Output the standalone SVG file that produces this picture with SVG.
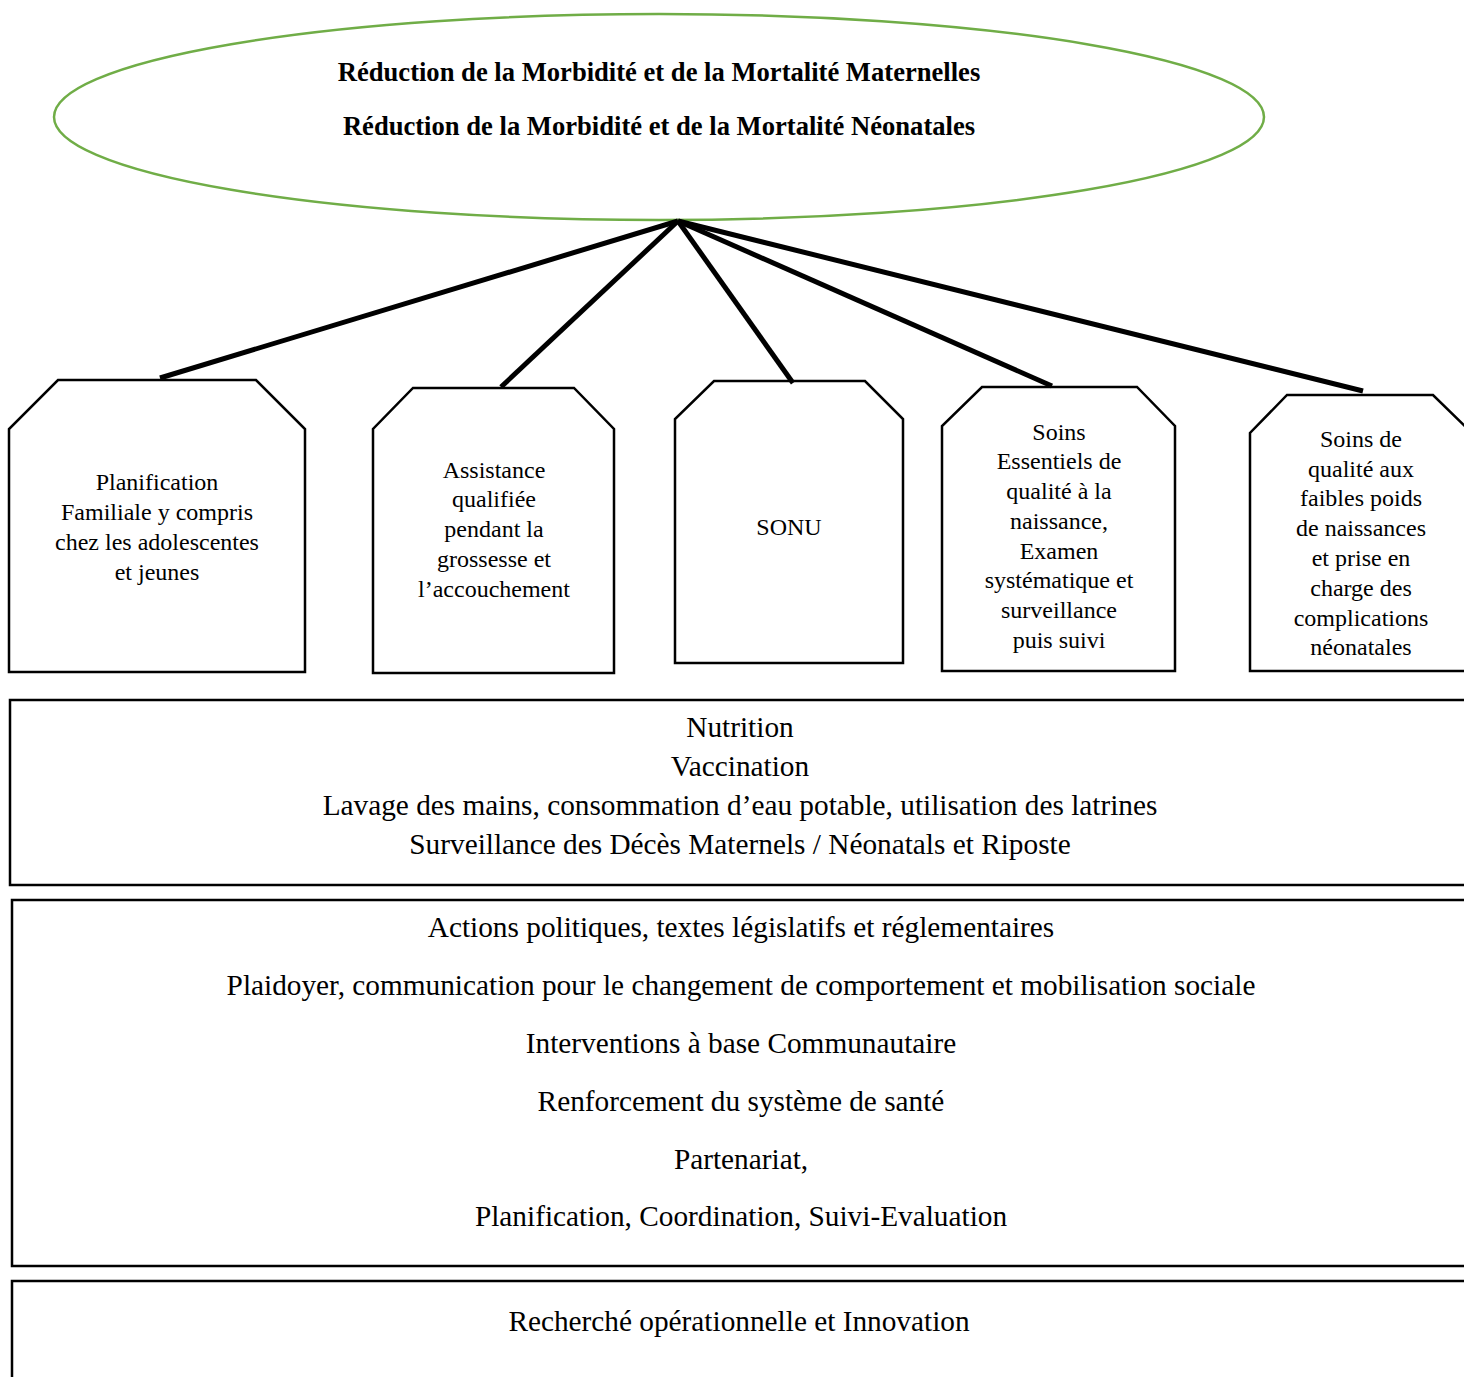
<svg xmlns="http://www.w3.org/2000/svg" width="1464" height="1377" viewBox="0 0 1464 1377">
<style>
.t{font-family:"Liberation Serif","Times New Roman",serif;fill:#000;text-anchor:middle}
.h{font-size:26.6px;font-weight:bold}
.s{font-size:24px}
.b{font-size:29.3px}
.shape{fill:#fff;stroke:#000;stroke-width:2.5}
.c{stroke:#000;stroke-width:5;fill:none}
</style>
<rect width="1464" height="1377" fill="#fff"/>
<g id="goal">
<ellipse cx="659" cy="117" rx="605" ry="103" fill="#fff" stroke="#70AD47" stroke-width="2.5"/>
<text class="t h" x="659" y="81">Réduction de la Morbidité et de la Mortalité Maternelles</text>
<text class="t h" x="659" y="135">Réduction de la Morbidité et de la Mortalité Néonatales</text>
</g>
<g id="node-pf">
<path class="shape" d="M58,380 H256 L305,429 V672 H9 V429 Z"/>
<text class="t s" x="157" y="490">Planification</text>
<text class="t s" x="157" y="520">Familiale y compris</text>
<text class="t s" x="157" y="550">chez les adolescentes</text>
<text class="t s" x="157" y="580">et jeunes</text>
</g>
<g id="node-assist">
<path class="shape" d="M413,388 H574 L614,429 V673 H373 V429 Z"/>
<text class="t s" x="494" y="478">Assistance</text>
<text class="t s" x="494" y="507">qualifiée</text>
<text class="t s" x="494" y="537">pendant la</text>
<text class="t s" x="494" y="567">grossesse et</text>
<text class="t s" x="494" y="597">l’accouchement</text>
</g>
<g id="node-sonu">
<path class="shape" d="M714,381 H865 L903,419 V663 H675 V419 Z"/>
<text class="t s" x="789" y="535">SONU</text>
</g>
<g id="node-soins">
<path class="shape" d="M982,387 H1137 L1175,426 V671 H942 V426 Z"/>
<text class="t s" x="1059" y="440">Soins</text>
<text class="t s" x="1059" y="469">Essentiels de</text>
<text class="t s" x="1059" y="499">qualité à la</text>
<text class="t s" x="1059" y="529">naissance,</text>
<text class="t s" x="1059" y="559">Examen</text>
<text class="t s" x="1059" y="588">systématique et</text>
<text class="t s" x="1059" y="618">surveillance</text>
<text class="t s" x="1059" y="648">puis suivi</text>
</g>
<g id="node-faibles">
<path class="shape" d="M1287,395 H1433 L1472,433 V671 H1250 V433 Z"/>
<text class="t s" x="1361" y="447">Soins de</text>
<text class="t s" x="1361" y="477">qualité aux</text>
<text class="t s" x="1361" y="506">faibles poids</text>
<text class="t s" x="1361" y="536">de naissances</text>
<text class="t s" x="1361" y="566">et prise en</text>
<text class="t s" x="1361" y="596">charge des</text>
<text class="t s" x="1361" y="626">complications</text>
<text class="t s" x="1361" y="655">néonatales</text>
</g>
<g id="connectors">
<line class="c" x1="678" y1="221" x2="160" y2="378"/>
<line class="c" x1="678" y1="221" x2="501" y2="387"/>
<line class="c" x1="678" y1="221" x2="793" y2="383"/>
<line class="c" x1="678" y1="221" x2="1052" y2="386"/>
<line class="c" x1="678" y1="221" x2="1363" y2="391"/>
</g>
<g id="box-transversal">
<rect class="shape" x="10" y="700" width="1470" height="185"/>
<text class="t b" x="740" y="737">Nutrition</text>
<text class="t b" x="740" y="776">Vaccination</text>
<text class="t b" x="740" y="815">Lavage des mains, consommation d’eau potable, utilisation des latrines</text>
<text class="t b" x="740" y="854">Surveillance des Décès Maternels / Néonatals et Riposte</text>
</g>
<g id="box-actions">
<rect class="shape" x="12" y="900" width="1470" height="366"/>
<text class="t b" x="741" y="937">Actions politiques, textes législatifs et réglementaires</text>
<text class="t b" x="741" y="995">Plaidoyer, communication pour le changement de comportement et mobilisation sociale</text>
<text class="t b" x="741" y="1053">Interventions à base Communautaire</text>
<text class="t b" x="741" y="1111">Renforcement du système de santé</text>
<text class="t b" x="741" y="1169">Partenariat,</text>
<text class="t b" x="741" y="1226">Planification, Coordination, Suivi-Evaluation</text>
</g>
<g id="box-recherche">
<rect class="shape" x="12" y="1281" width="1470" height="120"/>
<text class="t b" x="739" y="1331">Recherché opérationnelle et Innovation</text>
</g>
</svg>
